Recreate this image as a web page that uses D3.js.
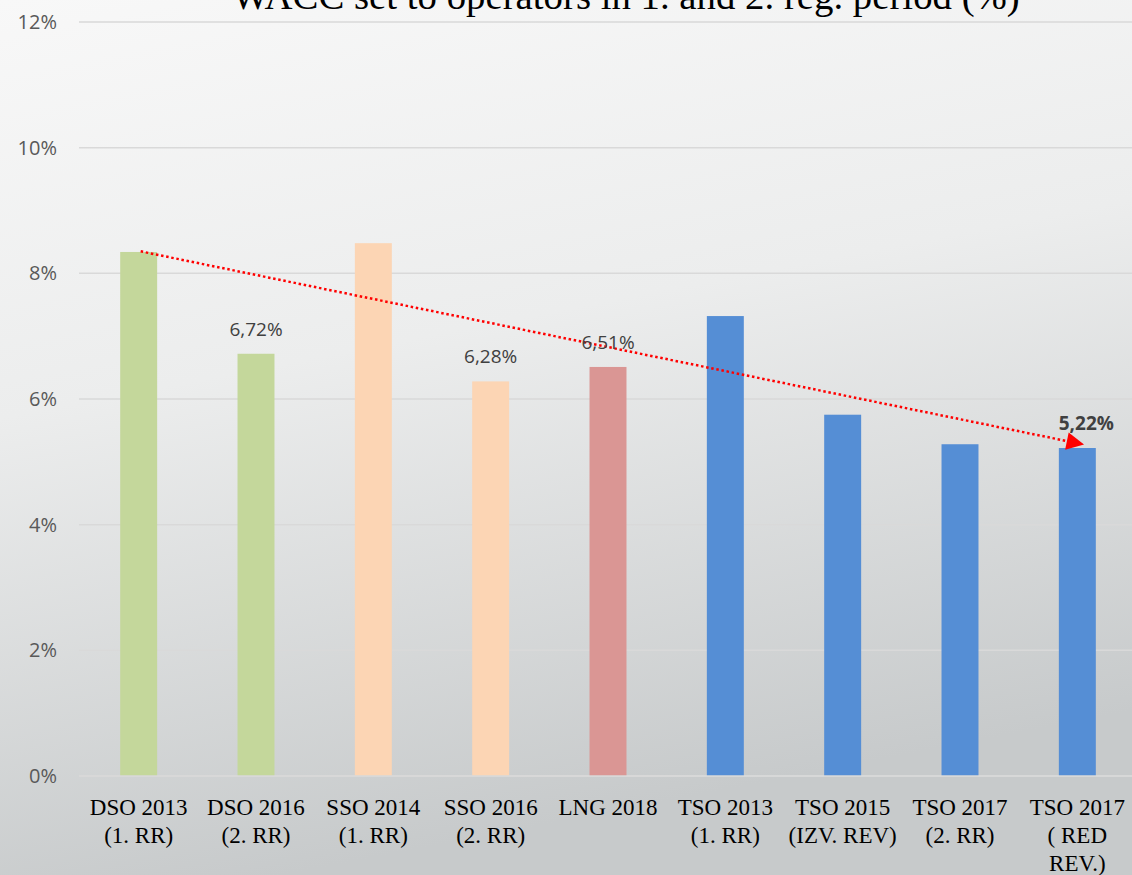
<!DOCTYPE html>
<html lang="en">
<head>
<meta charset="utf-8">
<title>WACC</title>
<script src="https://d3js.org/d3.v7.min.js"></script>
<style>
  body { margin: 0; overflow: hidden; }
  .tick-label { font-family: "Open Sans", sans-serif; font-size: 20px; fill: #595959; }
  .cat-label { font-family: "Liberation Serif", serif; font-size: 23px; fill: #000; }
  .val-label { font-family: "Open Sans", sans-serif; font-size: 19px; fill: #404040; }
  .title { font-family: "Liberation Serif", serif; font-size: 34px; fill: #000; }
</style>
</head>
<body>
<div id="main"></div>
<script>
var width = 1132;
var height = 875;

// data
var categories = [
  ["DSO 2013", "(1. RR)"],
  ["DSO 2016", "(2. RR)"],
  ["SSO 2014", "(1. RR)"],
  ["SSO 2016", "(2. RR)"],
  ["LNG 2018"],
  ["TSO 2013", "(1. RR)"],
  ["TSO 2015", "(IZV. REV)"],
  ["TSO 2017", "(2. RR)"],
  ["TSO 2017", "( RED", "REV.)"]
];
var values = [8.34, 6.72, 8.48, 6.28, 6.51, 7.32, 5.75, 5.28, 5.22];
var barColors = ["#c4d79b", "#c4d79b", "#fcd5b4", "#fcd5b4", "#da9694",
                 "#558ed5", "#558ed5", "#558ed5", "#558ed5"];
var labelled = [
  { i: 1, text: "6,72%", bold: false },
  { i: 3, text: "6,28%", bold: false },
  { i: 4, text: "6,51%", bold: false },
  { i: 8, text: "5,22%", bold: true }
];
var yTicks = [0, 2, 4, 6, 8, 10, 12];
// trend arrow: from first to last category (value %)
var trend = [{ i: 0, v: 8.35 }, { i: 8, v: 5.28 }];

var svg = d3.select("#main").append("svg")
  .attr("width", width)
  .attr("height", height);

var defs = svg.append("defs");
var grad = defs.append("linearGradient")
  .attr("id", "bg")
  .attr("x1", "0").attr("y1", "0")
  .attr("x2", "0.25").attr("y2", "1");
grad.append("stop").attr("offset", "0").attr("stop-color", "#f8f8f8");
grad.append("stop").attr("offset", "0.45").attr("stop-color", "#eceded");
grad.append("stop").attr("offset", "1").attr("stop-color", "#c7cacb");

defs.append("marker")
  .attr("id", "arrow")
  .attr("viewBox", "0 0 10 10")
  .attr("refX", 9).attr("refY", 5)
  .attr("markerWidth", 8).attr("markerHeight", 7)
  .attr("markerUnits", "strokeWidth")
  .attr("orient", "auto")
  .append("path")
  .attr("d", "M0,0 L10,5 L0,10 Z")
  .attr("fill", "#ff0000");

svg.append("rect")
  .attr("width", width).attr("height", height)
  .attr("fill", "url(#bg)");

var x = d3.scaleBand()
  .domain(d3.range(categories.length))
  .range([80, 1136])
  .paddingInner(0.685)
  .paddingOuter(0.3425);

var y = d3.scaleLinear()
  .domain([0, 12])
  .range([776, 22]);

// gridlines
svg.append("g")
  .selectAll("line")
  .data(yTicks)
  .enter()
  .append("line")
  .attr("x1", 79)
  .attr("x2", width)
  .attr("y1", function(d) { return y(d); })
  .attr("y2", function(d) { return y(d); })
  .attr("stroke", "#d9d9d9")
  .attr("stroke-width", 1.5);

svg.append("g")
  .selectAll("text")
  .data(yTicks)
  .enter()
  .append("text")
  .attr("class", "tick-label")
  .attr("text-anchor", "end")
  .attr("x", 57)
  .attr("y", function(d) { return y(d) + 7; })
  .text(function(d) { return d + "%"; });

// bars
svg.append("g")
  .selectAll("rect")
  .data(values)
  .enter()
  .append("rect")
  .attr("x", function(d, i) { return x(i); })
  .attr("width", x.bandwidth())
  .attr("y", function(d) { return y(d); })
  .attr("height", function(d) { return y(0) - y(d); })
  .attr("fill", function(d, i) { return barColors[i]; });

// x axis line on top of bars
svg.append("line")
  .attr("x1", 79).attr("x2", width)
  .attr("y1", y(0)).attr("y2", y(0))
  .attr("stroke", "#d9d9d9")
  .attr("stroke-width", 1.5);

// category labels
var cat = svg.append("g")
  .selectAll("text")
  .data(categories)
  .enter()
  .append("text")
  .attr("class", "cat-label")
  .attr("text-anchor", "middle")
  .attr("x", function(d, i) { return x(i) + x.bandwidth() / 2; })
  .attr("y", 815);
cat.selectAll("tspan")
  .data(function(d) { return d; })
  .enter()
  .append("tspan")
  .attr("x", function() { return d3.select(this.parentNode).attr("x"); })
  .attr("dy", function(d, j) { return j === 0 ? 0 : 28; })
  .text(function(d) { return d; });

// trend arrow
svg.append("line")
  .attr("x1", x(trend[0].i) + x.bandwidth() / 2 + 2)
  .attr("y1", y(trend[0].v))
  .attr("x2", x(trend[1].i) + x.bandwidth() / 2 + 5)
  .attr("y2", y(trend[1].v))
  .attr("stroke", "#ff0000")
  .attr("stroke-width", 2.5)
  .attr("stroke-dasharray", "2.5,2.7")
  .attr("marker-end", "url(#arrow)");

// data labels
svg.append("g")
  .selectAll("text")
  .data(labelled)
  .enter()
  .append("text")
  .attr("class", "val-label")
  .attr("text-anchor", "middle")
  .attr("font-weight", function(d) { return d.bold ? "bold" : "normal"; })
  .attr("x", function(d) { return x(d.i) + x.bandwidth() / 2 + (d.bold ? 9 : 0); })
  .attr("y", function(d) { return y(values[d.i]) - 18; })
  .text(function(d) { return d.text; });

// title (cut off at top edge in the original)
var title = svg.append("text")
  .attr("class", "title")
  .attr("text-anchor", "middle")
  .attr("x", 626)
  .attr("y", 9)
  .text("WACC set to operators in 1. and 2. reg. period (%)");
var tw = title.node().getComputedTextLength();
title.style("font-size", (34 * 788 / tw) + "px");
</script>
</body>
</html>
